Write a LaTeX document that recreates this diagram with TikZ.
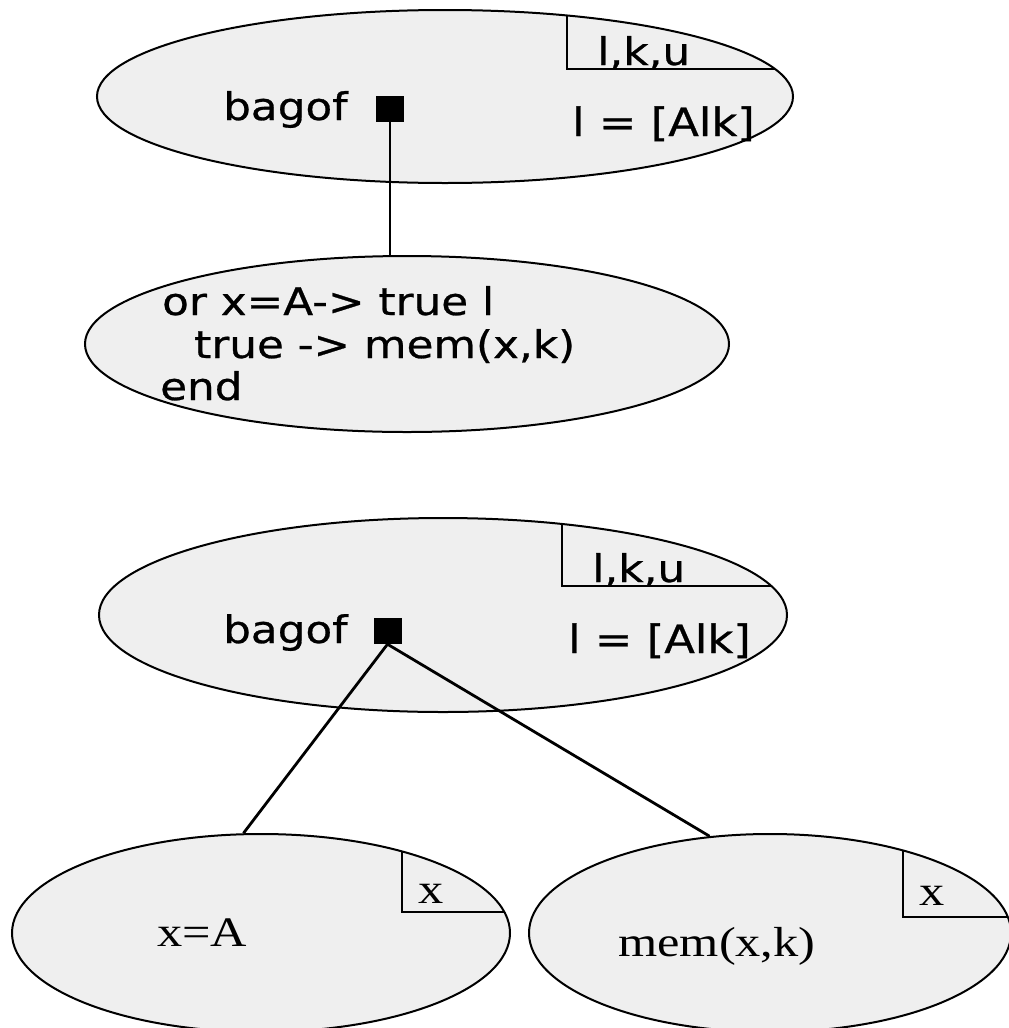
\documentclass[tikz,border=0pt]{standalone}
\usepackage{fontspec}
\usetikzlibrary{shapes.geometric}
\newfontfamily\widesans[FakeStretch=1.15,FakeBold=0.7]{DejaVu Sans}
\newfontfamily\wideserif[FakeStretch=1.2]{Liberation Serif}
\definecolor{bubble}{RGB}{239,239,239}
\tikzset{
  blob/.style={ellipse, draw, line width=2bp, fill=bubble, inner sep=0pt},
  solidsq/.style={rectangle, fill=black, minimum width=28bp, minimum height=26bp, inner sep=0pt},
  lbl/.style={anchor=base west, inner sep=0pt, font=\widesans\fontsize{38bp}{44bp}\selectfont},
  slbl/.style={anchor=base west, inner sep=0pt, font=\wideserif\fontsize{42bp}{48bp}\selectfont},
  link/.style={line width=2.8bp},
  rule/.style={line width=2.2bp}
}
\begin{document}
\begin{tikzpicture}[x=1bp,y=-1bp]
\useasboundingbox (0,0) rectangle (1009,1028);
\clip (0,0) rectangle (1009,1028);

% ellipses
\node[blob, minimum width=696bp, minimum height=173bp] (e1) at (445,96.5) {};
\node[blob, minimum width=644bp, minimum height=176bp] (e2) at (407,344) {};
\node[blob, minimum width=688bp, minimum height=194bp] (e3) at (443,615) {};
\node[blob, minimum width=498bp, minimum height=198bp] (e4) at (261,933) {};
\node[blob, minimum width=482bp, minimum height=198bp] (e5) at (770,933) {};

% corner rules inside the ellipses
\begin{scope}
  \clip (e1.center) ellipse [x radius=348bp, y radius=86.5bp];
  \draw[rule] (567,0) -- (567,69) -- (900,69);
\end{scope}
\begin{scope}
  \clip (e3.center) ellipse [x radius=344bp, y radius=97bp];
  \draw[rule] (562,500) -- (562,586) -- (900,586);
\end{scope}
\begin{scope}
  \clip (e4.center) ellipse [x radius=249bp, y radius=99bp];
  \draw[rule] (402,820) -- (402,912) -- (600,912);
\end{scope}
\begin{scope}
  \clip (e5.center) ellipse [x radius=241bp, y radius=99bp];
  \draw[rule] (903,820) -- (903,917) -- (1100,917);
\end{scope}

% top bagof
\node[lbl] (b1) at (223,120) {bagof};
\node[solidsq] (sq1) at (390,109) {};
\node[lbl] (v1) at (597,65) {l,k,u};
\node[lbl, font=\widesans\fontsize{39bp}{44bp}\selectfont] (c1) at (572,136) {l = [Alk]};

% disjunction body
\node[lbl] (o1) at (162,315) {or x=A-> true l};
\node[lbl] (o2) at (194,358) {true -> mem(x,k)};
\node[lbl] (o3) at (160,400) {end};

% lower bagof
\node[lbl] (b2) at (223,643) {bagof};
\node[solidsq] (sq2) at (387.5,631) {};
\node[lbl] (v2) at (592,582) {l,k,u};
\node[lbl, font=\widesans\fontsize{39bp}{44bp}\selectfont] (c2) at (568,653) {l = [Alk]};

% leaves
\node[slbl] (x1) at (418,903) {x};
\node[slbl] (t1) at (157,946) {x=A};
\node[slbl] (x2) at (919,905) {x};
\node[slbl] (t2) at (618,956) {mem(x,k)};

% connectors
\draw[link] (sq1.south) -- (sq1.south |- e2.north);
\draw[link] (sq2.south) -- (e4.100);
\draw[link] (sq2.south) -- (e5.122);
\end{tikzpicture}
\end{document}
